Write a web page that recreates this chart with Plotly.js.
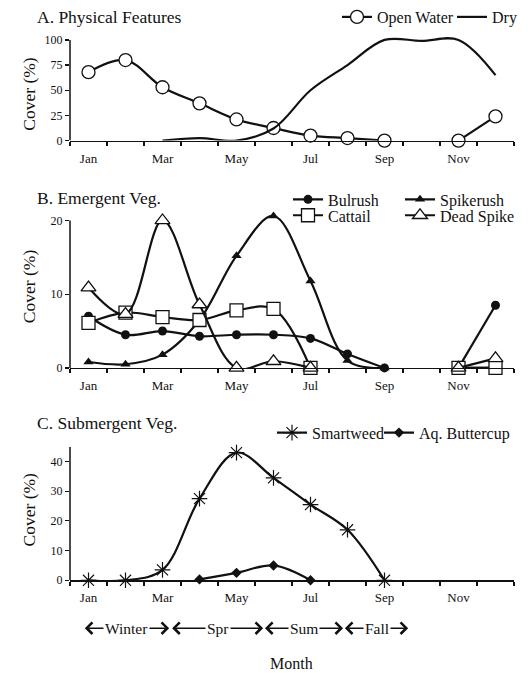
<!DOCTYPE html>
<html>
<head>
<meta charset="utf-8">
<script src="https://cdn.plot.ly/plotly-3.0.1.min.js"></script>
<style>html,body{margin:0;padding:0;background:#fff;}#chart{width:529px;height:673px;}</style>
</head>
<body>
<div id="chart"></div>
<script>
// ---- data ----
const months = ['Jan','Feb','Mar','Apr','May','Jun','Jul','Aug','Sep','Oct','Nov','Dec'];
const monthTickText = ['Jan','','Mar','','May','','Jul','','Sep','','Nov',''];

// A. Physical Features (% cover)
const openWater = [68, 80, 53, 37, 21, 12.5, 5, 2.5, 0, null, 0, 24];
const dry       = [null, null, 0, 2.5, 0, 12, 50, 75, 100, 99, 100, 65];

// B. Emergent Veg. (% cover)
const bulrush   = [7.0, 4.5, 5.0, 4.3, 4.5, 4.5, 4.0, 1.9, 0, null, 0, 8.5];
const cattail   = [6.1, 7.5, 6.9, 6.5, 7.8, 8.0, 0, null, null, null, 0, 0];
const spikerush = [0.8, 0.5, 1.8, 6.5, 15.2, 20.6, 11.8, 1.0, 0, null, 0, 0];
const deadSpike = [10.9, 7.3, 20.0, 8.6, 0, 0.9, 0, null, null, null, 0, 1.3];

// C. Submergent Veg. (% cover)
const smartweed = [0, 0, 3.5, 27.5, 43, 34.5, 25.5, 17, 0, null, null, null];
const buttercup = [null, null, null, 0.3, 2.5, 5.0, 0, null, null, null, null, null];

// seasons (category-index positions along the month axis)
const seasons     = ['Winter', 'Spr', 'Sum', 'Fall'];
const seasonStart = [-0.1, 2.26, 4.77, 6.93];
const seasonEnd   = [2.18, 4.72, 6.88, 8.64];

// ---- styling helpers ----
const FONT = '"Liberation Serif", "Times New Roman", Times, serif';
const INK = '#111';
const W = 529, H = 673, ML = 70, MR = 15;
const PW = W - ML - MR;
const px2x = p => (p - ML) / PW;
const px2y = p => 1 - p / H;

function tr(name, y, xa, ya, legend, marker) {
  const t = {
    type: 'scatter', mode: marker ? 'lines+markers' : 'lines',
    x: months, y: y, name: name, xaxis: xa, yaxis: ya, legend: legend,
    connectgaps: false, cliponaxis: false,
    line: {color: INK, width: 2.2, shape: 'spline', smoothing: 1}
  };
  if (marker) t.marker = marker;
  return t;
}
const openMk = (sym, size) => ({symbol: sym, size: size, color: '#fff', line: {color: INK, width: 1.3}});
const fillMk = (sym, size) => ({symbol: sym, size: size, color: INK, line: {color: INK, width: 0}});

const data = [
  tr('Open Water', openWater, 'x', 'y', 'legend', openMk('circle', 13)),
  tr('Dry', dry, 'x', 'y', 'legend2', null),
  tr('Bulrush', bulrush, 'x2', 'y2', 'legend3', fillMk('circle', 9)),
  tr('Spikerush', spikerush, 'x2', 'y2', 'legend4', fillMk('triangle-up', 9)),
  tr('Cattail', cattail, 'x2', 'y2', 'legend5', openMk('square', 13)),
  tr('Dead Spike', deadSpike, 'x2', 'y2', 'legend6', openMk('triangle-up', 13)),
  tr('Smartweed', smartweed, 'x3', 'y3', 'legend7', {symbol: 'asterisk-open', size: 13, color: INK, line: {color: INK, width: 1.2}}),
  tr('Aq. Buttercup', buttercup, 'x3', 'y3', 'legend8', fillMk('diamond', 8))
];

function xAxis(anchor) {
  return {
    type: 'category', anchor: anchor, domain: [0, 1], range: [-0.5, 11.5],
    tickmode: 'array', tickvals: months, ticktext: monthTickText,
    tickson: 'boundaries', ticks: 'outside', ticklen: 4, tickwidth: 1.2, tickcolor: INK,
    showline: true, linecolor: INK, linewidth: 1.5, showgrid: false, zeroline: false,
    tickfont: {family: FONT, size: 13, color: INK}, ticklabelstandoff: 5, fixedrange: true
  };
}
function yAxis(anchor, domain, range, dtick) {
  return {
    anchor: anchor, domain: domain, range: range, tickmode: 'linear', tick0: 0, dtick: dtick,
    ticks: 'outside', ticklen: 4, tickwidth: 1.2, tickcolor: INK,
    showline: false, showgrid: false, zeroline: false,
    tickfont: {family: FONT, size: 12, color: INK}, fixedrange: true
  };
}
function leg(pxX, pxY) {
  return {x: px2x(pxX), y: px2y(pxY), xanchor: 'left', yanchor: 'middle',
    orientation: 'v', bgcolor: 'rgba(0,0,0,0)', borderwidth: 0,
    font: {family: FONT, size: 16, color: INK}, itemclick: false, itemdoubleclick: false};
}

const annotations = [];
const titleFont = {family: FONT, size: 17.5, color: INK};
[['A. Physical Features', 15], ['B. Emergent Veg.', 197], ['C. Submergent Veg.', 422]].forEach(([t, py]) => {
  annotations.push({text: t, xref: 'paper', yref: 'paper', x: px2x(35), y: px2y(py),
    xanchor: 'left', yanchor: 'middle', showarrow: false, font: titleFont});
});
[92, 285, 509].forEach(py => {
  annotations.push({text: 'Cover (%)', xref: 'paper', yref: 'paper', x: px2x(29), y: px2y(py),
    xanchor: 'center', yanchor: 'middle', textangle: -90, showarrow: false,
    font: {family: FONT, size: 17.5, color: INK}});
});
annotations.push({text: 'Month', xref: 'paper', yref: 'paper', x: px2x(291), y: px2y(663),
  xanchor: 'center', yanchor: 'middle', showarrow: false, font: {family: FONT, size: 16, color: INK}});

const seasonY = px2y(628);
seasons.forEach((s, i) => {
  const mid = (seasonStart[i] + seasonEnd[i]) / 2;
  [seasonStart[i], seasonEnd[i]].forEach(tip => {
    annotations.push({text: '', xref: 'x3', yref: 'paper', x: tip, y: seasonY,
      axref: 'x3', ax: mid, ayref: 'pixel', ay: 0, showarrow: true,
      arrowhead: 4, arrowsize: 1.5, arrowwidth: 1.5, arrowcolor: INK, standoff: 0, startstandoff: 0});
  });
});
seasons.forEach((s, i) => {
  const mid = (seasonStart[i] + seasonEnd[i]) / 2;
  annotations.push({text: s, xref: 'x3', yref: 'paper', x: mid, y: seasonY,
    xanchor: 'center', yanchor: 'middle', showarrow: false, bgcolor: '#fff', borderpad: 1,
    font: {family: FONT, size: 15.5, color: INK}});
});

const axisLine = (yref, top) => ({type: 'line', xref: yref === 'y' ? 'x domain' : (yref === 'y2' ? 'x2 domain' : 'x3 domain'),
  x0: 0, x1: 0, yref: yref, y0: 0, y1: top, line: {color: INK, width: 1.5}});

const layout = {
  width: W, height: H,
  margin: {l: ML, r: MR, t: 0, b: 0},
  paper_bgcolor: '#fff', plot_bgcolor: '#fff',
  font: {family: FONT, color: INK},
  xaxis: xAxis('y'),
  yaxis: yAxis('x', [px2y(139), px2y(34)], [0, 104], 25),
  xaxis2: xAxis('y2'),
  yaxis2: yAxis('x2', [px2y(367), px2y(208)], [0, 21.5], 10),
  xaxis3: xAxis('y3'),
  yaxis3: yAxis('x3', [px2y(580), px2y(446)], [0, 45], 10),
  legend: leg(337, 15),
  legend2: leg(452, 15),
  legend3: leg(288, 198),
  legend4: leg(400, 198),
  legend5: leg(288, 214),
  legend6: leg(400, 214),
  legend7: leg(272, 432),
  legend8: leg(379, 432),
  shapes: [axisLine('y', 100), axisLine('y2', 20), axisLine('y3', 45)],
  annotations: annotations,
  showlegend: true
};

Plotly.newPlot('chart', data, layout, {displayModeBar: false, staticPlot: true});
</script>
</body>
</html>
